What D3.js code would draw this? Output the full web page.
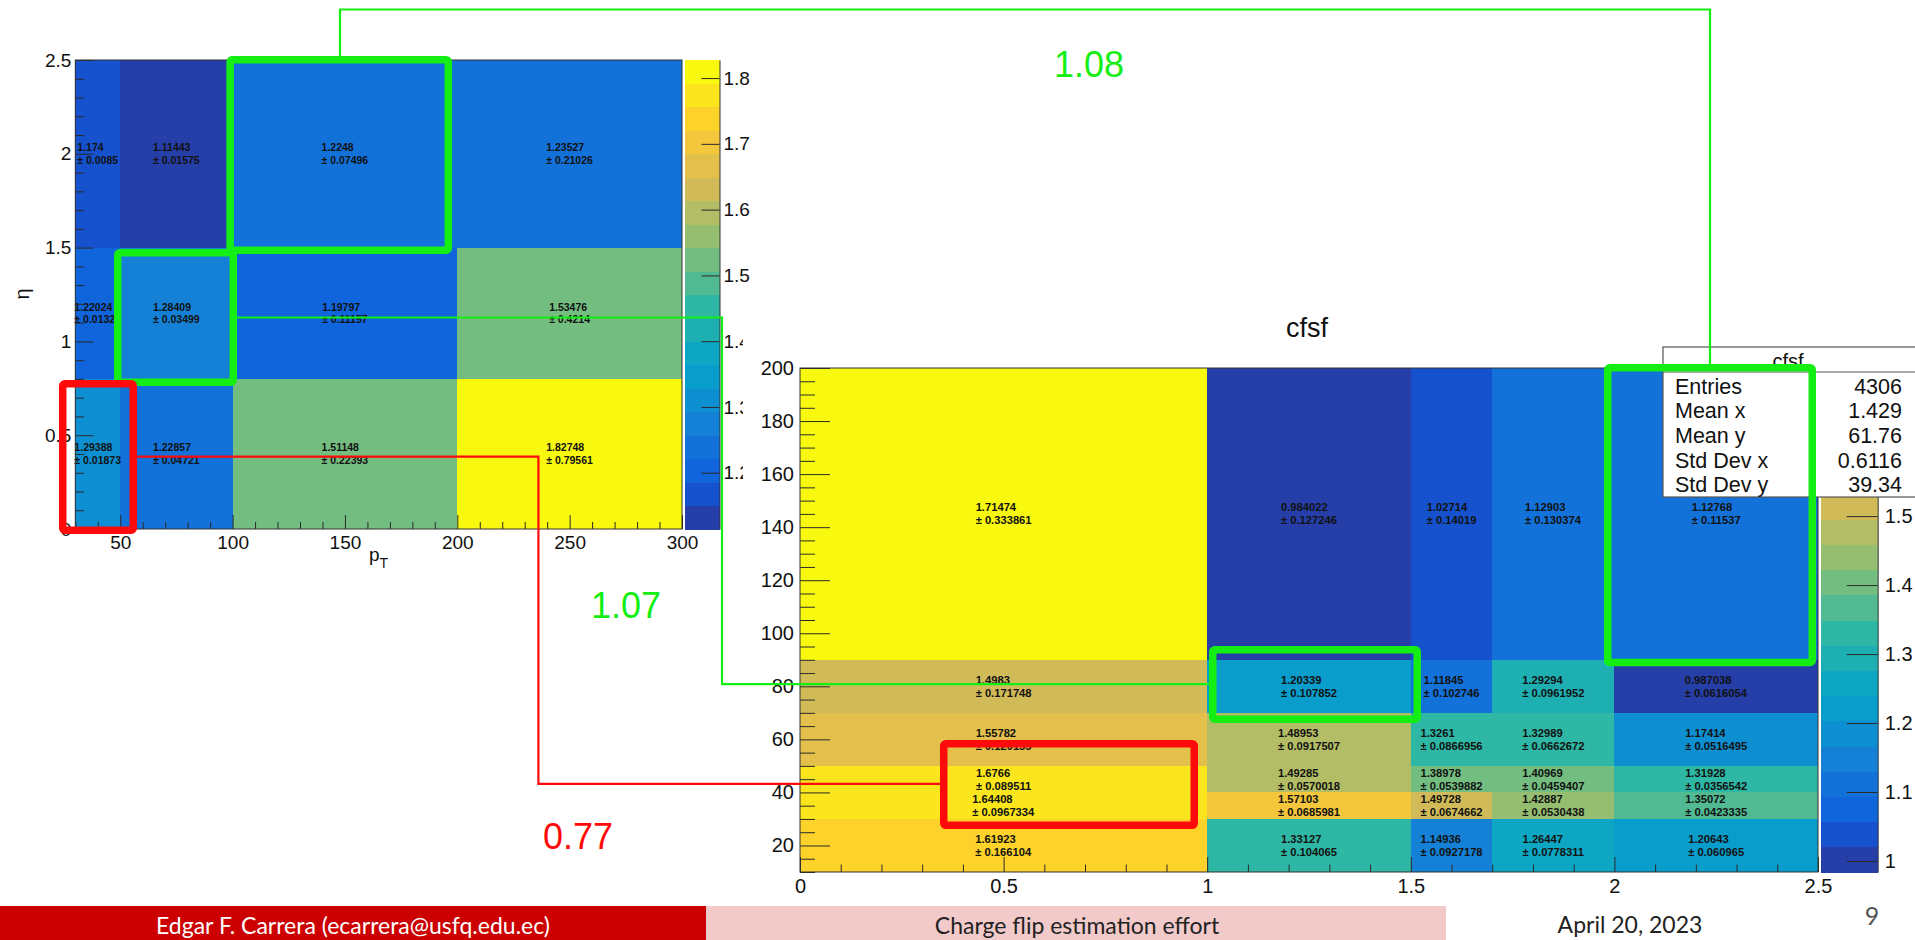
<!DOCTYPE html>
<html>
<head>
<meta charset="utf-8">
<title>Charge flip estimation effort</title>
<script src="https://cdn.jsdelivr.net/npm/d3@7"></script>
<style>
  html, body { margin: 0; padding: 0; background: #fff; overflow: hidden; }
  svg { display: block; }
</style>
</head>
<body>
<svg id="slide" width="1915" height="940"></svg>
<script>
// ---------------- data ----------------
// Map 1: scale factor in bins of pT (x) and eta (y); rows go from low to high eta
const ptEdges = [30, 50, 100, 200, 300];
const etaEdges = [0, 0.8, 1.5, 2.5];
const etaPtValues = [
  [1.29388, 1.22857, 1.51148, 1.82748],
  [1.22024, 1.28409, 1.19797, 1.53476],
  [1.174, 1.11443, 1.2248, 1.23527]
];
const etaPtErrors = [
  [0.01873, 0.04721, 0.22393, 0.79561],
  [0.01322, 0.03499, 0.11157, 0.4214],
  [0.0085, 0.01575, 0.07496, 0.21026]
];
const ptTicks = [50, 100, 150, 200, 250, 300];
const etaTicks = [0, 0.5, 1, 1.5, 2, 2.5];
const map1ZTicks = [1.2, 1.3, 1.4, 1.5, 1.6, 1.7, 1.8];

// Map 2 ("cfsf"): x bins 0..2.5, y bins 10..200; rows go from low to high y
const cfsfXEdges = [0, 1, 1.5, 1.7, 2, 2.5];
const cfsfYEdges = [10, 30, 40, 50, 70, 90, 200];
const cfsfValues = [
  [1.61923, 1.33127, 1.14936, 1.26447, 1.20643],
  [1.64408, 1.57103, 1.49728, 1.42887, 1.35072],
  [1.6766, 1.49285, 1.38978, 1.40969, 1.31928],
  [1.55782, 1.48953, 1.3261, 1.32989, 1.17414],
  [1.4983, 1.20339, 1.11845, 1.29294, 0.987038],
  [1.71474, 0.984022, 1.02714, 1.12903, 1.12768]
];
const cfsfErrors = [
  [0.166104, 0.104065, 0.0927178, 0.0778311, 0.060965],
  [0.0967334, 0.0685981, 0.0674662, 0.0530438, 0.0423335],
  [0.089511, 0.0570018, 0.0539882, 0.0459407, 0.0356542],
  [0.120155, 0.0917507, 0.0866956, 0.0662672, 0.0516495],
  [0.171748, 0.107852, 0.102746, 0.0961952, 0.0616054],
  [0.333861, 0.127246, 0.14019, 0.130374, 0.11537]
];
const cfsfXTicks = [0, 0.5, 1, 1.5, 2, 2.5];
const cfsfYTicks = [20, 40, 60, 80, 100, 120, 140, 160, 180, 200];
const cfsfZTicks = [1, 1.1, 1.2, 1.3, 1.4, 1.5];
const statNames = ["Entries", "Mean x", "Mean y", "Std Dev x", "Std Dev y"];
const statValues = ["4306", "1.429", "61.76", "0.6116", "39.34"];

// ratios written next to the highlighted regions
const ratioLabels = ["1.08", "1.07", "0.77"];

// ---------------- palette (bird gradient, 255 colours, 20 contours) ----------------
const birdStops = [0, 0.125, 0.25, 0.375, 0.5, 0.625, 0.75, 0.875, 1];
const birdR = [0.2082, 0.0592, 0.0780, 0.0232, 0.1802, 0.5301, 0.8186, 0.9956, 0.9764];
const birdG = [0.1664, 0.3599, 0.5041, 0.6419, 0.7178, 0.7492, 0.7328, 0.7862, 0.9832];
const birdB = [0.5293, 0.8684, 0.8385, 0.7914, 0.6425, 0.4662, 0.3499, 0.1968, 0.0539];
const NCOL = 255, NCONT = 20;
const palette = [];
for (let s = 1; s < birdStops.length; s++) {
  const n = Math.floor(NCOL * birdStops[s]) - Math.floor(NCOL * birdStops[s - 1]);
  for (let c = 0; c < n; c++) {
    const f = c / n;
    palette.push(d3.rgb(
      255 * (birdR[s - 1] + f * (birdR[s] - birdR[s - 1])),
      255 * (birdG[s - 1] + f * (birdG[s] - birdG[s - 1])),
      255 * (birdB[s - 1] + f * (birdB[s] - birdB[s - 1]))
    ).formatHex());
  }
}
function levelColor(level) {
  const k = Math.floor((level + 0.99) * NCOL / NCONT);
  return palette[Math.max(0, Math.min(k, NCOL - 1))];
}
function zColor(z, lo, hi) {
  return levelColor(Math.floor(0.01 + (z - lo) * NCONT / (hi - lo)));
}

// ---------------- helpers ----------------
const ROOTFONT = "'Liberation Sans', Arial, Helvetica, sans-serif";
const svg = d3.select("#slide");
const GREEN = "#14ee14";
const RED = "#ff0a0a";

function minorTicks(lo, hi, step, majors) {
  const out = [];
  const n = Math.round((hi - lo) / step);
  for (let i = 0; i <= n; i++) {
    const v = +(lo + i * step).toFixed(6);
    if (!majors.some(m => Math.abs(m - v) < 1e-9)) out.push(v);
  }
  return out;
}

function styleAxis(sel, fontSize) {
  sel.select(".domain").remove();
  sel.attr("font-family", ROOTFONT).attr("font-size", fontSize);
  sel.selectAll(".tick line").attr("stroke", "#2a2a2a").attr("stroke-width", 1);
  sel.selectAll(".tick text").attr("fill", "#111");
}

function drawMap(g, o) {
  const zAll = o.values.flat();
  const zlo = d3.min(zAll), zhi = d3.max(zAll);
  const cells = [];
  o.values.forEach((row, j) => row.forEach((v, i) => cells.push({ i, j, v, e: o.errors[j][i] })));

  g.append("g").selectAll("rect").data(cells).join("rect")
    .attr("x", d => o.x(o.xEdges[d.i]))
    .attr("y", d => o.y(o.yEdges[d.j + 1]))
    .attr("width", d => o.x(o.xEdges[d.i + 1]) - o.x(o.xEdges[d.i]))
    .attr("height", d => o.y(o.yEdges[d.j]) - o.y(o.yEdges[d.j + 1]))
    .attr("fill", d => zColor(d.v, zlo, zhi))
    .attr("shape-rendering", "crispEdges");

  // bin content and its error, two left-aligned lines centred on the bin
  const fs = o.cellFont, gap = o.lineGap;
  const txt = g.append("g").selectAll("text").data(cells).join("text")
    .attr("font-family", ROOTFONT).attr("font-size", fs).attr("font-weight", "bold")
    .attr("fill", "#111");
  txt.append("tspan").attr("x", 0).attr("y", -gap / 2 + 0.36 * fs).text(d => String(d.v));
  txt.append("tspan").attr("x", 0).attr("y", gap / 2 + 0.36 * fs).text(d => "\u00b1 " + String(d.e));
  txt.each(function (d) {
    const w = this.getBBox().width;
    const cx = (o.x(o.xEdges[d.i]) + o.x(o.xEdges[d.i + 1])) / 2;
    const cy = (o.y(o.yEdges[d.j]) + o.y(o.yEdges[d.j + 1])) / 2;
    d3.select(this).attr("transform", `translate(${cx - w / 2},${cy})`);
  });

  // axes: ticks drawn inside the frame
  const [xr0, xr1] = o.x.range();
  const [yb, yt] = o.y.range();
  const xd = o.x.domain(), yd = o.y.domain();
  const bx = g.append("g").attr("transform", `translate(0,${yb})`);
  bx.append("g").call(d3.axisBottom(o.x).tickValues(minorTicks(xd[0], xd[1], o.xMinorStep, o.xTicks))
      .tickSize(-o.xTickLen / 2).tickFormat("")).call(s => styleAxis(s, o.axisFont));
  bx.append("g").call(d3.axisBottom(o.x).tickValues(o.xTicks).tickSize(-o.xTickLen)
      .tickPadding(o.xPad).tickFormat(d3.format("~g"))).call(s => styleAxis(s, o.axisFont));

  const ly = g.append("g").attr("transform", `translate(${xr0},0)`);
  ly.append("g").call(d3.axisLeft(o.y).tickValues(minorTicks(yd[0], yd[1], o.yMinorStep, o.yTicks))
      .tickSize(-o.yTickLen / 2).tickFormat("")).call(s => styleAxis(s, o.axisFont));
  ly.append("g").call(d3.axisLeft(o.y).tickValues(o.yTicks).tickSize(-o.yTickLen)
      .tickPadding(o.yPad).tickFormat(d3.format("~g"))).call(s => styleAxis(s, o.axisFont));

  g.append("rect").attr("x", xr0).attr("y", yt).attr("width", xr1 - xr0).attr("height", yb - yt)
    .attr("fill", "none").attr("stroke", "#333").attr("stroke-width", 1);

  // colour palette axis
  const zs = d3.scaleLinear().domain([zlo, zhi]).range([yb, yt]);
  const pg = g.append("g");
  pg.selectAll("rect").data(d3.range(NCONT)).join("rect")
    .attr("x", o.palX0).attr("width", o.palX1 - o.palX0)
    .attr("y", i => zs(zlo + (i + 1) * (zhi - zlo) / NCONT))
    .attr("height", i => zs(zlo + i * (zhi - zlo) / NCONT) - zs(zlo + (i + 1) * (zhi - zlo) / NCONT) + 0.5)
    .attr("fill", levelColor)
    .attr("shape-rendering", "crispEdges");
  const pa = pg.append("g").attr("transform", `translate(${o.palX1},0)`)
    .call(d3.axisRight(zs).tickValues(o.zTicks).tickSize(-o.palTickLen).tickSizeOuter(0)
      .tickPadding(o.palPad).tickFormat(d3.format("~g")));
  pa.attr("font-family", ROOTFONT).attr("font-size", o.axisFont);
  pa.select(".domain").attr("stroke", "#333");
  pa.selectAll(".tick line").attr("stroke", "#2a2a2a");
  pa.selectAll(".tick text").attr("fill", "#111");
  return { zs };
}

function box(g, x0, x1, y0, y1, color, sw) {
  g.append("rect")
    .attr("x", Math.min(x0, x1)).attr("y", Math.min(y0, y1))
    .attr("width", Math.abs(x1 - x0)).attr("height", Math.abs(y1 - y0))
    .attr("fill", "none").attr("stroke", color).attr("stroke-width", sw)
    .attr("stroke-linejoin", "round").attr("rx", 2);
}

// ---------------- map 1 (pT, eta) ----------------
const xL = d3.scaleLinear().domain([30, 300]).range([75.3, 682]);
const yL = d3.scaleLinear().domain([0, 2.5]).range([529, 60]);
const gL = svg.append("g");
drawMap(gL, {
  xEdges: ptEdges, yEdges: etaEdges, values: etaPtValues, errors: etaPtErrors,
  x: xL, y: yL, cellFont: 10.5, lineGap: 12.5,
  xTicks: ptTicks, yTicks: etaTicks, xMinorStep: 10, yMinorStep: 0.1,
  xTickLen: 14, yTickLen: 18, xPad: 7, yPad: 4, axisFont: 19,
  palX0: 685, palX1: 719.5, palTickLen: 18, palPad: 4, zTicks: map1ZTicks
});
// axis titles
const ptTitle = gL.append("text").attr("x", 369).attr("y", 561)
  .attr("font-family", ROOTFONT).attr("font-size", 19).attr("fill", "#111");
ptTitle.append("tspan").text("p");
ptTitle.append("tspan").attr("font-size", 14).attr("dy", 7).text("T");
gL.append("text").attr("transform", "translate(29,294) rotate(-90)")
  .attr("text-anchor", "middle").attr("font-family", ROOTFONT).attr("font-size", 20)
  .attr("fill", "#111").text("\u03b7");

// ---------------- map 2 (cfsf) ----------------
const gR = svg.append("g");
gR.append("rect").attr("x", 743).attr("y", 300).attr("width", 1172).attr("height", 600).attr("fill", "#fff");
const xR = d3.scaleLinear().domain([0, 2.5]).range([800, 1818]);
const yR = d3.scaleLinear().domain([10, 200]).range([872, 368]);
drawMap(gR, {
  xEdges: cfsfXEdges, yEdges: cfsfYEdges, values: cfsfValues, errors: cfsfErrors,
  x: xR, y: yR, cellFont: 11.2, lineGap: 13,
  xTicks: cfsfXTicks, yTicks: cfsfYTicks, xMinorStep: 0.1, yMinorStep: 5,
  xTickLen: 15, yTickLen: 30, xPad: 7, yPad: 6, axisFont: 20,
  palX0: 1821, palX1: 1877.7, palTickLen: 31, palPad: 7, zTicks: cfsfZTicks
});
gR.append("text").attr("x", 1307).attr("y", 337).attr("text-anchor", "middle")
  .attr("font-family", ROOTFONT).attr("font-size", 27).attr("fill", "#111").text("cfsf");

// statistics box
const st = gR.append("g").attr("font-family", ROOTFONT).attr("fill", "#111");
st.append("rect").attr("x", 1663).attr("y", 347).attr("width", 300).attr("height", 150)
  .attr("fill", "#fff").attr("stroke", "#555").attr("stroke-width", 1.2);
st.append("line").attr("x1", 1663).attr("x2", 1963).attr("y1", 372).attr("y2", 372)
  .attr("stroke", "#555").attr("stroke-width", 1.2);
st.append("text").attr("x", 1788).attr("y", 368).attr("text-anchor", "middle")
  .attr("font-size", 20).text("cfsf");
statNames.forEach((n, i) => {
  st.append("text").attr("x", 1675).attr("y", 393.5 + i * 24.7).attr("font-size", 21.5).text(n);
  st.append("text").attr("x", 1902).attr("y", 393.5 + i * 24.7).attr("font-size", 21.5)
    .attr("text-anchor", "end").text(statValues[i]);
});

// ---------------- highlighted regions and connectors ----------------
const ann = svg.append("g");
const SW = 7.5;
// boxes given in each map's own units (stroke centre lines)
const g1 = { x0: xL(98.9), x1: xL(196), y0: yL(2.501), y1: yL(1.486) };
const g2 = { x0: xL(48.9), x1: xL(100.3), y0: yL(1.4726), y1: yL(0.782) };
const r1 = { x0: xL(24.4), x1: xL(55.8), y0: yL(0.774), y1: yL(-0.0067) };
const g3 = { x0: xR(1.9837), x1: xR(2.4859), y0: yR(200.1), y1: yR(89.0) };
const g4 = { x0: xR(1.0136), x1: xR(1.5158), y0: yR(93.8), y1: yR(67.6) };
const r2 = { x0: xR(0.353), x1: xR(0.9682), y0: yR(58.35), y1: yR(27.6) };

const thin = d3.line();
function connector(points, color) {
  ann.append("path").attr("d", thin(points)).attr("fill", "none")
    .attr("stroke", color).attr("stroke-width", 2.2);
}
// top bin of map 1 -> high-y column of map 2
connector([[xL(147.8), g1.y0 - SW / 2], [xL(147.8), 9.5], [xR(2.2348), 9.5], [xR(2.2348), g3.y0 - SW / 2]], GREEN);
// middle bin of map 1 -> row at y ~ 80 of map 2
connector([[g2.x1 + SW / 2, yL(1.1274)], [722, yL(1.1274)], [722, yR(80.8)], [g4.x0 - SW / 2, yR(80.8)]], GREEN);
// low bin of map 1 -> low-x region of map 2
connector([[r1.x1 + SW / 2, yL(0.3854)], [xL(236.1), yL(0.3854)], [xL(236.1), yR(43.2)], [r2.x0 - SW / 2, yR(43.2)]], RED);

[[g1, GREEN], [g2, GREEN], [r1, RED], [g3, GREEN], [g4, GREEN], [r2, RED]]
  .forEach(([b, c]) => box(ann, b.x0, b.x1, b.y0, b.y1, c, SW));

const labelPos = [[1089, 77, GREEN], [626, 618, GREEN], [578, 849, RED]];
ratioLabels.forEach((t, i) => {
  ann.append("text").attr("x", labelPos[i][0]).attr("y", labelPos[i][1])
    .attr("text-anchor", "middle").attr("font-family", ROOTFONT).attr("font-size", 36)
    .attr("fill", labelPos[i][2]).text(t);
});

// ---------------- footer ----------------
const foot = svg.append("g").attr("font-family", "Lato, 'Open Sans', sans-serif");
foot.append("rect").attr("x", 0).attr("y", 906).attr("width", 706).attr("height", 34).attr("fill", "#cc0000");
foot.append("rect").attr("x", 706).attr("y", 906).attr("width", 740).attr("height", 34).attr("fill", "#f2caca");
foot.append("text").attr("x", 353).attr("y", 934).attr("text-anchor", "middle")
  .attr("font-size", 23).attr("fill", "#fff").text("Edgar F. Carrera (ecarrera@usfq.edu.ec)");
foot.append("text").attr("x", 1077).attr("y", 934).attr("text-anchor", "middle")
  .attr("font-size", 23).attr("fill", "#222").text("Charge flip estimation effort");
foot.append("text").attr("x", 1630).attr("y", 933).attr("text-anchor", "middle")
  .attr("font-size", 23).attr("fill", "#222").text("April 20, 2023");
foot.append("text").attr("x", 1872).attr("y", 925).attr("text-anchor", "middle")
  .attr("font-size", 25).attr("fill", "#555").text("9");
</script>
</body>
</html>
